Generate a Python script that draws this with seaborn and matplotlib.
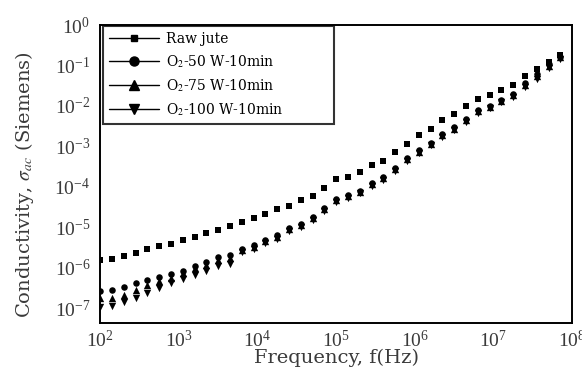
import numpy as np
import pandas as pd
import matplotlib
matplotlib.use("Agg")
import matplotlib.pyplot as plt
from matplotlib.lines import Line2D
from matplotlib.ticker import LogLocator, NullFormatter
import seaborn as sns

# log10 of frequency (Hz)
log_freq = [2.00, 2.15, 2.30, 2.45, 2.60, 2.75, 2.90, 3.05, 3.20, 3.35,
            3.50, 3.65, 3.80, 3.95, 4.10, 4.25, 4.40, 4.55, 4.70, 4.85,
            5.00, 5.15, 5.30, 5.45, 5.60, 5.75, 5.90, 6.05, 6.20, 6.35,
            6.50, 6.65, 6.80, 6.95, 7.10, 7.25, 7.40, 7.55, 7.70, 7.85]

# log10 of ac conductivity (S)
log_raw = [-5.80, -5.78, -5.72, -5.63, -5.55, -5.47, -5.41, -5.32, -5.23, -5.15,
           -5.06, -4.97, -4.88, -4.78, -4.68, -4.55, -4.47, -4.32, -4.22, -4.03,
           -3.80, -3.76, -3.63, -3.47, -3.37, -3.15, -2.93, -2.73, -2.57, -2.35,
           -2.20, -2.01, -1.82, -1.73, -1.60, -1.48, -1.26, -1.09, -0.90, -0.75]
log_o2_50 = [-6.57, -6.55, -6.49, -6.38, -6.30, -6.24, -6.16, -6.08, -5.95, -5.86,
             -5.74, -5.68, -5.53, -5.45, -5.32, -5.20, -5.02, -4.91, -4.74, -4.53,
             -4.30, -4.20, -4.10, -3.91, -3.76, -3.53, -3.29, -3.10, -2.91, -2.70,
             -2.53, -2.32, -2.10, -1.99, -1.85, -1.70, -1.44, -1.22, -0.97, -0.78]
log_o2_75 = [-6.76, -6.76, -6.68, -6.55, -6.43, -6.33, -6.26, -6.13, -6.00, -5.93,
             -5.82, -5.75, -5.57, -5.48, -5.35, -5.23, -5.05, -4.94, -4.77, -4.56,
             -4.33, -4.23, -4.13, -3.94, -3.79, -3.56, -3.32, -3.13, -2.94, -2.73,
             -2.56, -2.35, -2.13, -2.02, -1.88, -1.73, -1.48, -1.27, -1.02, -0.80]
log_o2_100 = [-6.97, -6.95, -6.86, -6.76, -6.63, -6.51, -6.38, -6.28, -6.17, -6.08,
              -5.96, -5.90, -5.62, -5.53, -5.40, -5.28, -5.10, -4.99, -4.81, -4.60,
              -4.37, -4.27, -4.16, -3.98, -3.83, -3.60, -3.36, -3.17, -2.97, -2.76,
              -2.60, -2.39, -2.17, -2.06, -1.91, -1.77, -1.52, -1.32, -1.07, -0.84]

labels = ["Raw jute", "O$_2$-50 W-10min", "O$_2$-75 W-10min", "O$_2$-100 W-10min"]
series = [log_raw, log_o2_50, log_o2_75, log_o2_100]
markers = {labels[0]: "s", labels[1]: "o", labels[2]: "^", labels[3]: "v"}
msizes = {labels[0]: 18, labels[1]: 22, labels[2]: 28, labels[3]: 28}

rows = []
for lab, vals in zip(labels, series):
    for lf, lv in zip(log_freq, vals):
        rows.append({"f": 10 ** lf, "sigma": 10 ** lv, "sample": lab})
df = pd.DataFrame(rows)

sns.set_theme(style="white")
plt.rcParams["font.family"] = ["Liberation Serif", "DejaVu Serif"]
plt.rcParams["mathtext.fontset"] = "stix"

fig = plt.figure(figsize=(5.82, 3.70), dpi=100)
ax = fig.add_axes([0.172, 0.127, 0.811, 0.805])

for lab in labels:
    sub = df[df["sample"] == lab]
    sns.scatterplot(data=sub, x="f", y="sigma", marker=markers[lab], s=msizes[lab],
                    color="black", edgecolor="black", linewidth=0, ax=ax, legend=False)

ax.set_xscale("log")
ax.set_yscale("log")
ax.set_xlim(1e2, 1e8)
ax.set_ylim(10 ** -7.37, 1e0)

ax.xaxis.set_major_locator(LogLocator(base=10, numticks=20))
ax.yaxis.set_major_locator(LogLocator(base=10, numticks=20))
ax.xaxis.set_minor_locator(LogLocator(base=10, subs=np.arange(2, 10), numticks=20))
ax.yaxis.set_minor_locator(LogLocator(base=10, subs=np.arange(2, 10), numticks=20))
ax.xaxis.set_minor_formatter(NullFormatter())
ax.yaxis.set_minor_formatter(NullFormatter())

tick_col = "#3a3a3a"
ax.tick_params(axis="x", which="major", direction="in", length=5, width=1.2,
               labelsize=14, colors="black", labelcolor=tick_col, pad=5)
ax.tick_params(axis="x", which="minor", direction="in", length=3, width=1.0, colors="black")
ax.tick_params(axis="y", which="major", direction="out", length=5, width=1.2,
               labelsize=14, colors="black", labelcolor=tick_col, pad=2)
ax.tick_params(axis="y", which="minor", direction="out", length=3, width=1.0, colors="black")

for sp in ax.spines.values():
    sp.set_color("black")
    sp.set_linewidth(1.4)

label_font = {"family": ["DejaVu Serif"], "size": 14, "color": tick_col}
ax.set_xlabel("Frequency, f(Hz)", fontdict=label_font)
ax.set_ylabel("Conductivity, $\\sigma_{ac}$ (Siemens)", fontdict=label_font)
ax.xaxis.set_label_coords(0.5, -0.085)
ax.yaxis.set_label_coords(-0.135, 0.465)

handles = []
for lab in labels:
    handles.append(Line2D([0], [0], color="black", lw=1.0, marker=markers[lab],
                          markersize=5 if markers[lab] == "s" else 6.5,
                          markerfacecolor="black", markeredgecolor="black"))
leg = ax.legend(handles, labels, loc="upper left", mode="expand",
                bbox_to_anchor=(0.006, 0.674, 0.49, 0.323),
                frameon=True, fancybox=False, edgecolor="black",
                prop={"family": ["DejaVu Serif"], "size": 10},
                handlelength=3.6, handletextpad=0.5, labelspacing=0.5,
                borderpad=0.45, borderaxespad=0.0, numpoints=1)
leg.get_frame().set_linewidth(1.5)
for t in leg.get_texts():
    t.set_color("black")

fig.savefig("out.png", dpi=100)
